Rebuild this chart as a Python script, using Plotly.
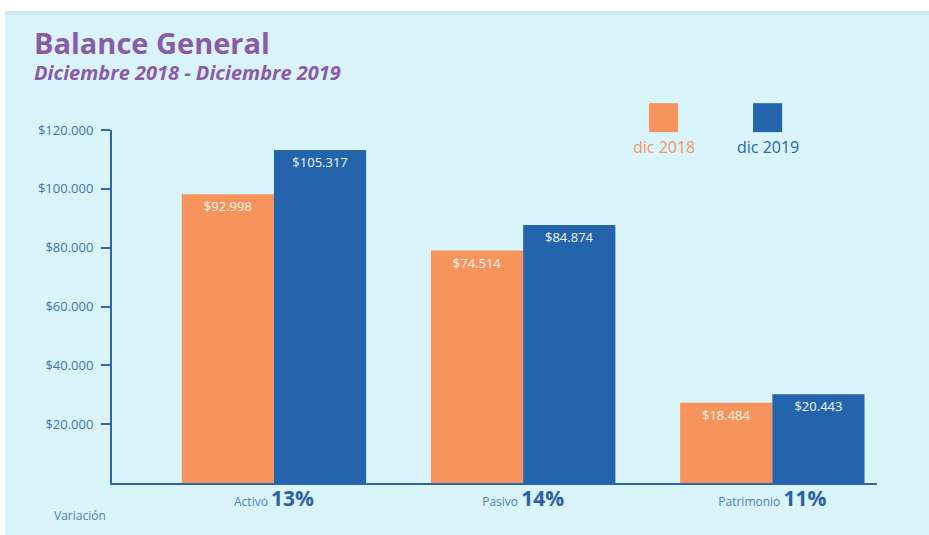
import plotly.graph_objects as go

# categories and values (bar heights, labels as printed)
categories = ["Activo", "Pasivo", "Patrimonio"]
variation = ["13%", "14%", "11%"]
dic_2018 = [98200, 79000, 27300]
dic_2019 = [113200, 87700, 30150]
labels_2018 = ["$92.998", "$74.514", "$18.484"]
labels_2019 = ["$105.317", "$84.874", "$20.443"]
y_ticks = [20000, 40000, 60000, 80000, 100000, 120000]
y_tick_text = ["$20.000", "$40.000", "$60.000", "$80.000", "$100.000", "$120.000"]

ORANGE = "#F7945E"
BLUE = "#2364AD"
AXIS_BLUE = "#2B66B1"
PURPLE = "#8A5BA8"
BG = "#DAF4FB"
FONT = "Open Sans"

tick_text = [
    f"<span style='color:#4A7FC0'>{c}</span> "
    f"<b><span style='font-size:21px;color:#2C5FA8'>{v}</span></b>"
    for c, v in zip(categories, variation)
]

fig = go.Figure()

fig.add_trace(
    go.Bar(
        x=categories,
        y=dic_2018,
        name="dic 2018",
        marker=dict(color=ORANGE, line=dict(width=0)),
        text=labels_2018,
        textposition="inside",
        insidetextanchor="end",
        textfont=dict(color="#FFF6EC", size=13, family=FONT),
    )
)

fig.add_trace(
    go.Bar(
        x=categories,
        y=dic_2019,
        name="dic 2019",
        marker=dict(color=BLUE, line=dict(width=0)),
        text=labels_2019,
        textposition="inside",
        insidetextanchor="end",
        textfont=dict(color="#F2F6FC", size=13, family=FONT),
    )
)

# white page border around the light blue panel
fig.add_shape(type="rect", xref="paper", yref="paper",
              x0=-0.2, x1=1.2, y0=1.337, y1=1.4,
              fillcolor="white", line=dict(width=0), layer="below")
fig.add_shape(type="rect", xref="paper", yref="paper",
              x0=-0.2, x1=1.2, y0=1.326, y1=1.337,
              fillcolor="#CDE8F0", line=dict(width=0), layer="below")
fig.add_shape(type="rect", xref="paper", yref="paper",
              x0=-0.2, x1=-0.1399, y0=-0.2, y1=1.4,
              fillcolor="white", line=dict(width=0), layer="below")

# legend squares with labels underneath
legend_items = [("dic 2018", ORANGE, 0.721), ("dic 2019", BLUE, 0.857)]
for name, color, cx in legend_items:
    fig.add_shape(type="rect", xref="paper", yref="paper",
                  x0=cx - 0.019, x1=cx + 0.019, y0=0.994, y1=1.076,
                  fillcolor=color, line=dict(width=0))
    fig.add_annotation(text=name, xref="paper", yref="paper",
                       x=cx, y=0.952, xanchor="center", yanchor="middle",
                       showarrow=False,
                       font=dict(color=color, size=16, family=FONT))

fig.add_annotation(text="<b>Balance General</b>", xref="paper", yref="paper",
                   x=-0.1045, y=1.247, xanchor="left", yanchor="middle",
                   showarrow=False,
                   font=dict(color=PURPLE, size=29, family=FONT))
fig.add_annotation(text="<b><i>Diciembre 2018 - Diciembre 2019</i></b>",
                   xref="paper", yref="paper",
                   x=-0.1045, y=1.164, xanchor="left", yanchor="middle",
                   showarrow=False,
                   font=dict(color=PURPLE, size=20, family=FONT))
fig.add_annotation(text="Variación", xref="paper", yref="paper",
                   x=-0.079, y=-0.0907, xanchor="left", yanchor="middle",
                   showarrow=False,
                   font=dict(color="#4A7FC0", size=12, family=FONT))

fig.update_layout(
    width=929,
    height=535,
    margin=dict(l=112, r=52, t=130, b=52),
    paper_bgcolor=BG,
    plot_bgcolor=BG,
    barmode="group",
    bargap=0.26,
    bargroupgap=0,
    showlegend=False,
    font=dict(family=FONT, color=AXIS_BLUE),
    xaxis=dict(
        range=[-0.65, 2.42],
        tickvals=categories,
        ticktext=tick_text,
        showline=True,
        linecolor=AXIS_BLUE,
        linewidth=2,
        showgrid=False,
        ticks="",
        ticklabelstandoff=7,
        tickfont=dict(size=12, family=FONT, color="#4A7FC0"),
    ),
    yaxis=dict(
        range=[0, 120000],
        tickvals=y_ticks,
        ticktext=y_tick_text,
        showline=True,
        linecolor=AXIS_BLUE,
        linewidth=2,
        showgrid=False,
        zeroline=False,
        ticks="outside",
        ticklen=9,
        tickwidth=2,
        tickcolor=AXIS_BLUE,
        ticklabelstandoff=5,
        tickfont=dict(size=13, family=FONT, color="#3C73B8"),
    ),
)

fig.write_html(
    "out.html",
    config={"displayModeBar": False},
    post_script="document.body.style.margin='0';",
)
